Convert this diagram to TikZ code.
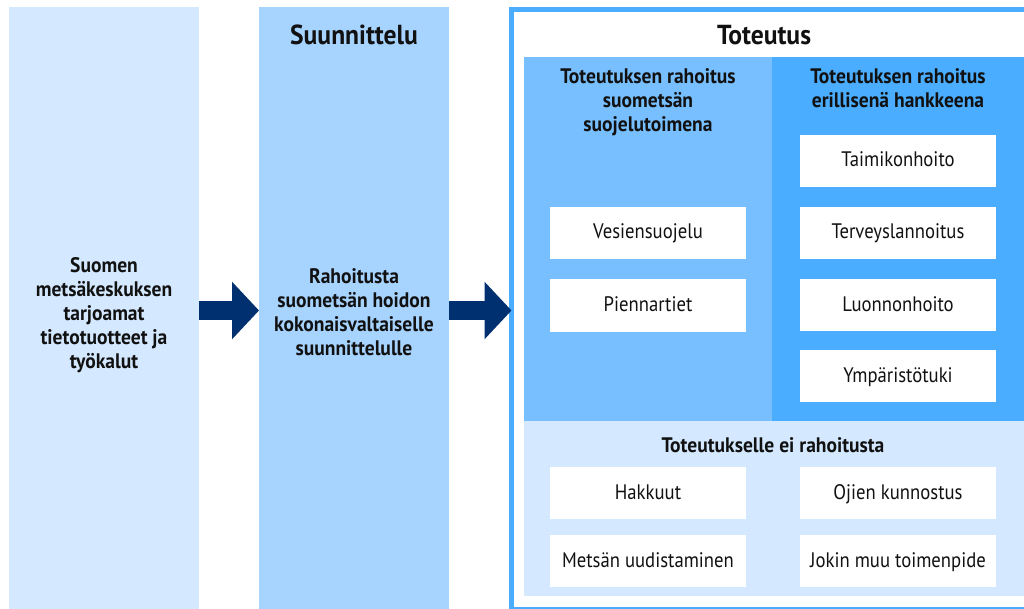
\documentclass[tikz,border=0pt]{standalone}
\usepackage{fontspec}
\setmainfont{PT Sans}[FakeStretch=0.89, BoldFeatures={FakeStretch=0.93}]
\usetikzlibrary{arrows.meta}
\definecolor{paleblue}{HTML}{D4E9FF}
\definecolor{midblue}{HTML}{A7D3FF}
\definecolor{skyblue}{HTML}{77BFFF}
\definecolor{strongblue}{HTML}{4AADFF}
\definecolor{navy}{HTML}{00306F}
\definecolor{ink}{HTML}{111111}
\tikzset{
  panel/.style={draw=none, inner sep=0pt, outer sep=0pt, anchor=north west},
  wbox/.style={fill=white, draw=none, inner sep=0pt, outer sep=0pt,
    minimum width=196pt, minimum height=52pt, text=ink,
    text height=15pt, text depth=3pt,
    font=\fontsize{21}{24}\selectfont},
  hdr/.style={text=ink, align=center, inner sep=0pt, anchor=base,
    font=\fontsize{21}{24}\selectfont\bfseries},
  bighdr/.style={text=ink, inner sep=0pt, anchor=base,
    font=\fontsize{27.5}{32}\selectfont\bfseries},
  bigarrow/.style={draw=navy, line width=19pt, line cap=butt,
    -{Triangle[length=27pt, width=56pt]}}
}
\begin{document}
\begin{tikzpicture}[x=1pt, y=-1pt]
\useasboundingbox (0,0) rectangle (1024,609);
\clip (0,0) rectangle (1024,609);
% columns
\node[panel, fill=paleblue, minimum width=190pt, minimum height=620pt] (col1) at (9,7) {};
\node[panel, fill=midblue, minimum width=190pt, minimum height=620pt] (col2) at (259,7) {};
% Toteutus frame
\node[panel, draw=strongblue, line width=5pt, minimum width=540pt, minimum height=600pt] (tot) at (511.5,9.5) {};
% inner panels
\node[panel, fill=skyblue, minimum width=248pt, minimum height=364pt] (pl) at (524,57) {};
\node[panel, fill=strongblue, minimum width=260pt, minimum height=364pt] (pr) at (772,57) {};
\node[panel, fill=paleblue, minimum width=510pt, minimum height=175pt] (pb) at (524,421) {};
% texts (base anchor = baseline of last line)
\node[hdr] (t1) at (104,368) {Suomen\\metsäkeskuksen\\tarjoamat\\tietotuotteet ja\\työkalut};
\node[bighdr] (t2h) at (354,45) {Suunnittelu};
\node[hdr] (t2) at (354,355) {Rahoitusta\\suometsän hoidon\\kokonaisvaltaiselle\\suunnittelulle};
\node[bighdr] (t3h) at (764,45) {Toteutus};
\node[hdr] (hl) at (648,132) {Toteutuksen rahoitus\\suometsän\\suojelutoimena};
\node[hdr] (hr) at (898,108) {Toteutuksen rahoitus\\erillisenä hankkeena};
\node[hdr] (hb) at (773,452) {Toteutukselle ei rahoitusta};
% white boxes
\node[wbox] (b1) at (648,233) {Vesiensuojelu};
\node[wbox] (b2) at (648,305.5) {Piennartiet};
\node[wbox] (b3) at (898,161) {Taimikonhoito};
\node[wbox] (b4) at (898,233) {Terveyslannoitus};
\node[wbox] (b5) at (898,305) {Luonnonhoito};
\node[wbox] (b6) at (898,376) {Ympäristötuki};
\node[wbox] (b7) at (648,493) {Hakkuut};
\node[wbox] (b8) at (648,561) {Metsän uudistaminen};
\node[wbox] (b9) at (898,493) {Ojien kunnostus};
\node[wbox] (b10) at (898,561) {Jokin muu toimenpide};
% arrows
\coordinate (a1s) at (199,310.5);
\coordinate (a1e) at (259,310.5);
\coordinate (a2s) at (449,310.5);
\coordinate (a2e) at (509,310.5);
\draw[bigarrow] (col1.east |- a1s) -- (col2.west |- a1e);
\draw[bigarrow] (col2.east |- a2s) -- (tot.west |- a2e);
\end{tikzpicture}
\end{document}
